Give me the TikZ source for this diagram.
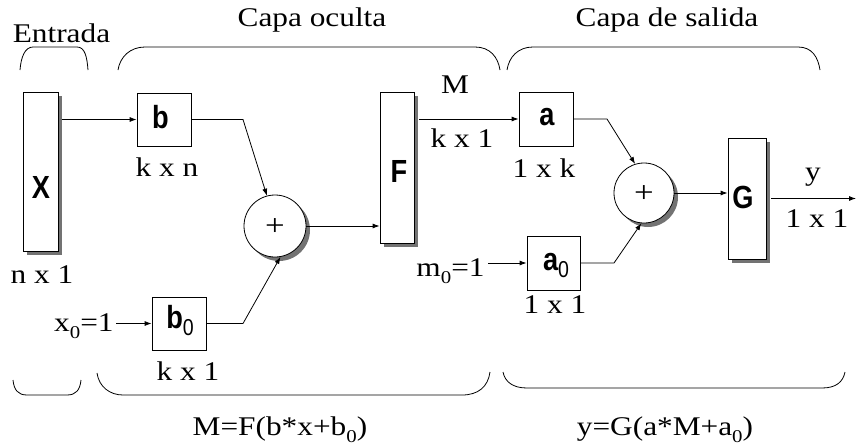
\documentclass[tikz,border=0pt]{standalone}
\usepackage{fontspec}
\setmainfont{Liberation Serif}[FakeStretch=1.16]
\newfontfamily\sansfnt{Liberation Sans}[FakeStretch=0.85]
\usetikzlibrary{arrows.meta,calc,shadows}
\begin{document}
\begin{tikzpicture}[x=1pt,y=-1pt,line width=0.8pt,
  font=\fontsize{27}{30}\selectfont,
  >={Latex[length=7pt,width=5pt]},
  blk/.style={draw,fill=white,inner sep=0pt},
  shd/.style={drop shadow={shadow xshift=4pt,shadow yshift=-4pt,fill=black!55,opacity=1}},
  sumnode/.style={draw,fill=white,circle,inner sep=0pt,minimum size=62pt,shd},
  lbl/.style={inner sep=0pt,font=\sansfnt\bfseries\fontsize{32}{32}\selectfont},
  plus/.style={inner sep=0pt,font=\fontsize{30}{30}\selectfont},
  txt/.style={inner sep=0pt,anchor=base},
  brace/.style={line width=0.8pt}]
\useasboundingbox (0,0) rectangle (856,447);
\newcommand{\sbz}{\raisebox{-7pt}{\sansfnt\mdseries\fontsize{23}{23}\selectfont 0}}
\newcommand{\srz}{\raisebox{-7pt}{\fontsize{18}{18}\selectfont 0}}

% boxes
\node[blk,shd,minimum width=35pt,minimum height=159pt] (X) at (40.5,171.5) {};
\node[lbl] (Xl) at (41,187) {X};
\node[blk,minimum width=54pt,minimum height=53pt] (b) at (164,119.5) {};
\node[lbl] (bl) at (160.5,117) {b};
\node[blk,minimum width=54pt,minimum height=53pt] (b0) at (179,323.5) {};
\node[lbl] (b0l) at (180,321) {b\sbz};
\node[sumnode] (c1) at (275,226) {};
\node[plus] (p1) at (275,227) {+};
\node[blk,shd,minimum width=34pt,minimum height=151pt] (F) at (397,167.5) {};
\node[lbl] (Fl) at (399,171) {F};
\node[blk,minimum width=54pt,minimum height=54pt] (a) at (546,119) {};
\node[lbl] (al) at (547,117) {a};
\node[blk,minimum width=53pt,minimum height=54pt] (a0) at (553.5,263) {};
\node[lbl] (a0l) at (556,265) {a\sbz};
\node[sumnode,minimum size=60pt] (c2) at (644,193) {};
\node[plus] (p2) at (644,194) {+};
\node[blk,shd,minimum width=38pt,minimum height=121pt] (G) at (747,198.5) {};
\node[lbl] (Gl) at (743,197) {G};
\coordinate (out) at (856,198.5);

% inputs
\node[inner sep=0pt,anchor=base east] (x0) at (114,331) {x\srz=1};
\node[inner sep=0pt,anchor=base east] (m0) at (485,276) {m\srz=1};

% connectors
\coordinate (bb) at (243,119.5);
\coordinate (b0b) at (243,323.5);
\coordinate (ab) at (607,119);
\coordinate (a0b) at (614,263);
\coordinate (xs) at ($(X.east)+(4,0)$);
\coordinate (fs) at ($(F.east)+(5,0)$);
\coordinate (gs) at ($(G.east)+(5,0)$);
\draw[->] (xs |- b.west) -- (b.west);
\draw[->] (b.east) -- (bb) -- (c1.105);
\draw[->] ($(x0.east |- b0.west)+(2,0)$) -- (b0.west);
\draw[->] (b0.east) -- (b0b) -- (c1.-80);
\draw[->] (c1.east) -- (c1.east -| F.west);
\draw[->] (fs |- a.west) -- (a.west);
\draw[->] ($(m0.east |- a0.west)+(3,0)$) -- (a0.west);
\draw[->] (a.east) -- (ab) -- (c2.107);
\draw[->] (a0.east) -- (a0b) -- (c2.-95);
\draw[->] (c2.east) -- (c2.east -| G.west);
\draw[->] (gs |- out) -- (out);

% dimension labels
\node[txt] (t1) at (42,283) {n x 1};
\node[txt] (t2) at (167,176) {k x n};
\node[txt] (t3) at (188,380) {k x 1};
\node[txt] (t4) at (455,93) {M};
\node[txt] (t5) at (462,147) {k x 1};
\node[txt] (t6) at (544,177) {1 x k};
\node[txt] (t7) at (555,313) {1 x 1};
\node[txt] (t8) at (813,180) {y};
\node[txt] (t9) at (817,227) {1 x 1};

% titles
\node[txt] (h1) at (61.5,42) {Entrada};
\node[txt] (h2) at (312,27) {Capa oculta};
\node[txt] (h3) at (667,26) {Capa de salida};
\node[txt] (f1) at (280,435) {M=F(b*x+b\srz)};
\node[txt] (f2) at (665,435) {y=G(a*M+a\srz)};

% braces top
\draw[brace] (20,70) .. controls (21,57) and (25,47) .. (33,47) -- (77,47) .. controls (85,47) and (87,57) .. (88,70);
\draw[brace] (118,70) .. controls (120,57) and (130,47) .. (145,47) -- (475,47) .. controls (490,47) and (498,57) .. (500,70);
\draw[brace] (507,70) .. controls (509,57) and (518,47) .. (533,47) -- (798,47) .. controls (812,47) and (818,57) .. (820,70);
% braces bottom
\draw[brace] (13,380) .. controls (14,390) and (18,395) .. (27,395) -- (67,395) .. controls (76,395) and (80,390) .. (81,380);
\draw[brace] (97,373) .. controls (99,387) and (110,395) .. (123,395) -- (462,395) .. controls (478,395) and (488,387) .. (490,372);
\draw[brace] (503,372) .. controls (505,382) and (513,388) .. (527,388) -- (822,388) .. controls (836,388) and (843,382) .. (845,372);
\end{tikzpicture}
\end{document}
